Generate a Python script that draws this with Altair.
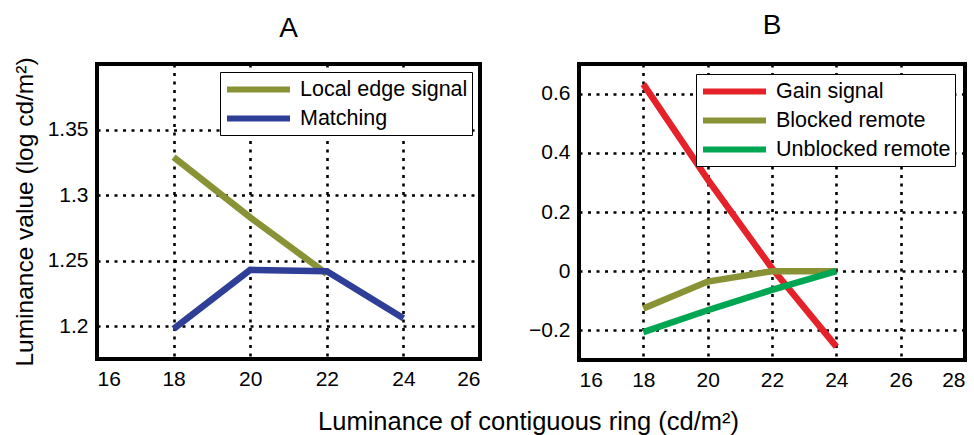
import altair as alt
import pandas as pd

# ---- data ----
x_a = [18, 20, 22, 24]
local_edge_x = [18, 20, 22]
local_edge = [1.329, 1.283, 1.240]
matching = [1.198, 1.243, 1.242, 1.206]

x_b = [18, 20, 22, 24]
gain = [0.632, 0.31, 0.01, -0.255]
blocked = [-0.126, -0.035, 0.0, 0.0]
unblocked = [-0.206, -0.132, -0.063, 0.0]

series_a = ["Local edge signal", "Matching"]
colors_a = ["#8a9236", "#2f3f98"]
series_b = ["Gain signal", "Blocked remote", "Unblocked remote"]
colors_b = ["#e52229", "#8a9236", "#00a651"]

xticks_a = [16, 18, 20, 22, 24, 26]
yticks_a = [1.2, 1.25, 1.3, 1.35]
xticks_b = [16, 18, 20, 22, 24, 26, 28]
yticks_b = [-0.2, 0, 0.2, 0.4, 0.6]

df_a = pd.concat([
    pd.DataFrame({"x": local_edge_x, "y": local_edge, "s": series_a[0]}),
    pd.DataFrame({"x": x_a, "y": matching, "s": series_a[1]}),
])
df_b = pd.concat([
    pd.DataFrame({"x": x_b, "y": gain, "s": series_b[0]}),
    pd.DataFrame({"x": x_b, "y": blocked, "s": series_b[1]}),
    pd.DataFrame({"x": x_b, "y": unblocked, "s": series_b[2]}),
])

FONT = "Liberation Sans"

def legend(offset):
    return alt.Legend(
        title=None, orient="top-right", offset=offset,
        symbolType="M-1,0L5,0", symbolSize=441, symbolStrokeWidth=6,
        labelFontSize=21.5, labelFont=FONT, labelColor="black", labelOffset=49,
        strokeColor="black", fillColor="white", padding=4, rowPadding=3,
        labelLimit=400,
    )

chart_a = alt.Chart(df_a).mark_line(strokeWidth=6.5, strokeCap="butt").encode(
    x=alt.X("x:Q", scale=alt.Scale(domain=[16, 26], nice=False, zero=False),
            axis=alt.Axis(values=xticks_a, title=None)),
    y=alt.Y("y:Q", scale=alt.Scale(domain=[1.175, 1.4], nice=False, zero=False),
            axis=alt.Axis(values=yticks_a, format=".2~f",
                          title="Luminance value (log cd/m²)")),
    color=alt.Color("s:N", scale=alt.Scale(domain=series_a, range=colors_a),
                    legend=legend(8)),
    detail="s:N",
).properties(
    width=383, height=295,
    title=alt.TitleParams("A", fontSize=28, font=FONT, fontWeight="normal",
                          anchor="middle", frame="group", offset=14),
)

chart_b = alt.Chart(df_b).mark_line(strokeWidth=6.5, strokeCap="butt").encode(
    x=alt.X("x:Q", scale=alt.Scale(domain=[16, 28], nice=False, zero=False),
            axis=alt.Axis(values=xticks_b, title=None)),
    y=alt.Y("y:Q", scale=alt.Scale(domain=[-0.3, 0.7], nice=False, zero=False),
            axis=alt.Axis(values=yticks_b, format=".1~f", title=None)),
    color=alt.Color("s:N", scale=alt.Scale(domain=series_b, range=colors_b),
                    legend=legend(10)),
    detail="s:N",
).properties(
    width=386, height=296,
    title=alt.TitleParams("B", fontSize=28, font=FONT, fontWeight="normal",
                          anchor="middle", frame="group", offset=24),
)

chart = alt.hconcat(chart_a, chart_b, spacing=44).resolve_scale(
    color="independent"
).properties(
    title=alt.TitleParams("Luminance of contiguous ring (cd/m²)", orient="bottom",
                          anchor="middle", fontSize=25.5, font=FONT,
                          fontWeight="normal", dx=40, offset=18),
    padding={"left": 10, "top": 10, "right": 5, "bottom": 0},
).configure_view(
    stroke="black", strokeWidth=4
).configure_axis(
    labelFont=FONT, labelFontSize=21, labelColor="black",
    titleFont=FONT, titleFontSize=24.5, titleFontWeight="normal", titleColor="black",
    titlePadding=10, labelPadding=9,
    ticks=False, domain=False,
    grid=True, gridColor="black", gridDash=[3, 5.5], gridWidth=2.6, gridOpacity=1,
).configure_title(color="black")

chart.save("out.html", embed_options={"renderer": "svg", "actions": False})
